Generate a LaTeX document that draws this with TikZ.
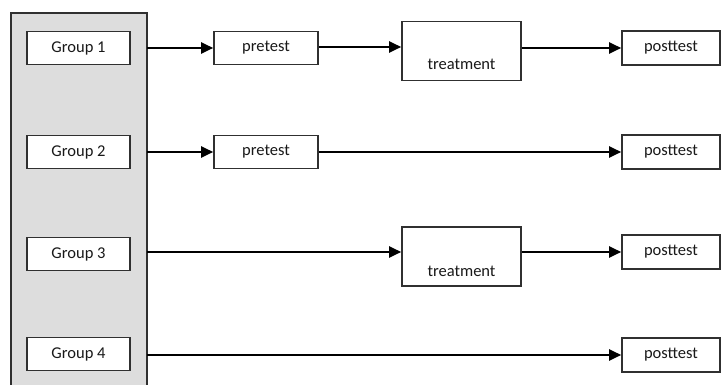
\documentclass[tikz,border=0pt]{standalone}
\usepackage{fontspec}
\setmainfont{Carlito}
\usetikzlibrary{arrows.meta}
\definecolor{panelgray}{HTML}{DDDDDD}
\definecolor{edgegray}{HTML}{303030}
\begin{document}
\begin{tikzpicture}[x=1pt,y=1pt,
  box/.style={draw=edgegray,line width=1.6pt,fill=white,rectangle,inner sep=0pt,font=\fontsize{16.5}{19}\selectfont,text=black!90},
  grp/.style={box,minimum width=103pt,minimum height=33pt},
  pre/.style={box,minimum width=104pt,minimum height=33pt},
  post/.style={box,minimum width=98pt,minimum height=34pt},
  treat/.style={box,minimum width=119pt,minimum height=59pt},
  lbl/.style={font=\fontsize{16.5}{19}\selectfont,text=black!90,inner sep=0pt},
  conn/.style={line width=2.2pt,-{Triangle[length=12pt,width=11pt]}}]
\useasboundingbox (0,0) rectangle (721,385);
% left panel
\path[fill=panelgray,draw=edgegray,line width=1.6pt] (11,-5) rectangle (147,372);
% groups
\node[grp] (g1) at (78.5,337) {Group 1};
\node[grp] (g2) at (78.5,233) {Group 2};
\node[grp] (g3) at (78.5,131) {Group 3};
\node[grp] (g4) at (78.5,31) {Group 4};
% edge coordinates
\coordinate (s1) at (147,337);
\coordinate (s2) at (147,233);
\coordinate (s3) at (147,133);
\coordinate (s4) at (147,30);
% row 1
\node[pre] (p1) at (266,337) {pretest};
\node[treat] (t1) at (461.5,334) {};
\node[lbl] at ([yshift=17pt]t1.south) {treatment};
\node[post] (o1) at (671,337) {posttest};
% row 2
\node[pre] (p2) at (266,233) {pretest};
\node[post] (o2) at (671,233) {posttest};
% row 3
\node[treat] (t3) at (461.5,128.5) {};
\node[lbl] at ([yshift=15pt]t3.south) {treatment};
\node[post] (o3) at (671,133) {posttest};
% row 4
\node[post] (o4) at (671,30) {posttest};
% connectors
\draw[conn] (s1) -- (p1.west);
\draw[conn] (p1.east |- 0,338) -- (t1.west |- 0,338);
\draw[conn] (t1.east |- o1.west) -- (o1.west);
\draw[conn] (s2) -- (p2.west);
\draw[conn] (p2.east) -- (o2.west);
\draw[conn] (s3) -- (t3.west |- s3);
\draw[conn] (t3.east |- o3.west) -- (o3.west);
\draw[conn] (s4) -- (o4.west);
\end{tikzpicture}
\end{document}
